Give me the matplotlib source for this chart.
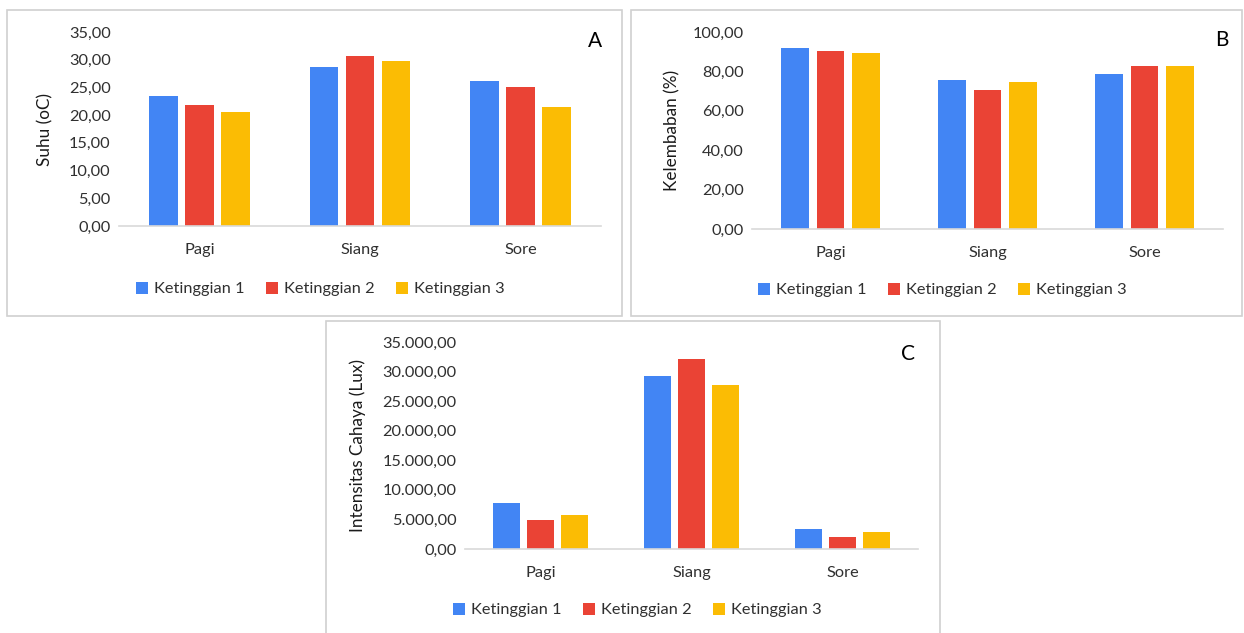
import numpy as np
import matplotlib
matplotlib.use('Agg')
import matplotlib.pyplot as plt
from matplotlib.patches import Rectangle
from matplotlib.ticker import FuncFormatter

plt.rcParams['font.family'] = ['Lato', 'DejaVu Sans']

waktu = ['Pagi', 'Siang', 'Sore']
seri = ['Ketinggian 1', 'Ketinggian 2', 'Ketinggian 3']
warna = ['#4285F4', '#EA4335', '#FBBC04']

# suhu (oC) per ketinggian
suhu_k1 = [23.4, 28.7, 26.1]
suhu_k2 = [21.9, 30.7, 25.1]
suhu_k3 = [20.5, 29.7, 21.5]

# kelembaban (%)
lembab_k1 = [91.8, 75.5, 78.8]
lembab_k2 = [90.5, 70.4, 82.5]
lembab_k3 = [89.1, 74.7, 82.5]

# intensitas cahaya (lux)
lux_k1 = [7730, 29250, 3450]
lux_k2 = [4910, 32070, 2030]
lux_k3 = [5820, 27660, 2880]

W, H = 1244, 633
fig = plt.figure(figsize=(W / 100, H / 100), dpi=100)

def fx(px):
    return px / W

def fy(py):
    return 1 - py / H

def fmt_id(v, pos):
    s = '{:,.2f}'.format(v)
    return s.replace(',', '#').replace('.', ',').replace('#', '.')

def panel(box, rect, data, ymax, step, ylabel, ylab_x, letter, letter_xy, leg_xy):
    # bingkai panel
    bx0, by0, bx1, by1 = box
    fig.patches.append(Rectangle((fx(bx0), fy(by1)), fx(bx1 - bx0), (by1 - by0) / H,
                                 transform=fig.transFigure, fill=False,
                                 edgecolor='#d0d0d0', lw=1.2))
    x0, ytop, x1, y0 = rect
    ax = fig.add_axes([fx(x0), fy(y0), fx(x1 - x0), (y0 - ytop) / H])
    x = np.arange(len(waktu))
    w = 0.177
    for i, (vals, c, lab) in enumerate(zip(data, warna, seri)):
        ax.bar(x + (i - 1) * 0.224, vals, width=w, color=c, label=lab)
    ax.set_xlim(-0.5, 2.5)
    ax.set_ylim(0, ymax)
    ax.set_yticks(np.arange(0, ymax + step / 2, step))
    ax.yaxis.set_major_formatter(FuncFormatter(fmt_id))
    ax.set_xticks(x)
    ax.set_xticklabels(waktu)
    for s in ['top', 'right', 'left']:
        ax.spines[s].set_visible(False)
    ax.spines['bottom'].set_color('#d9d9d9')
    ax.spines['bottom'].set_linewidth(1.2)
    ax.tick_params(length=0, labelsize=11.8, colors='#303030')
    ax.tick_params(axis='x', pad=12)
    ax.tick_params(axis='y', pad=6)
    ax.patch.set_alpha(0)
    fig.text(fx(ylab_x), fy((ytop + y0) / 2), ylabel, rotation=90, ha='center',
             va='center', fontsize=12.3, color='#1a1a1a')
    fig.text(fx(letter_xy[0]), fy(letter_xy[1]), letter, ha='center', va='center',
             fontsize=15, color='black')
    ax.legend(loc='center', bbox_to_anchor=(fx(leg_xy[0]), fy(leg_xy[1])),
              bbox_transform=fig.transFigure, ncol=3, frameon=False, fontsize=11.8,
              handlelength=0.75, handleheight=0.75, handletextpad=0.35,
              columnspacing=1.3, labelcolor='#303030')
    return ax

panel((7, 10, 622, 316), (119, 32, 601, 226), [suhu_k1, suhu_k2, suhu_k3], 35, 5,
      'Suhu (oC)', 45, 'A', (595, 41), (320, 289))
panel((631, 10, 1242, 316), (752, 32, 1223, 229), [lembab_k1, lembab_k2, lembab_k3], 100, 20,
      'Kelembaban (%)', 672, 'B', (1222, 40), (942, 290))
panel((326, 321, 940, 640), (465, 342, 918, 549), [lux_k1, lux_k2, lux_k3], 35000, 5000,
      'Intensitas Cahaya (Lux)', 358, 'C', (908, 354), (637, 610))

fig.savefig('out.png', dpi=100, facecolor='white')
